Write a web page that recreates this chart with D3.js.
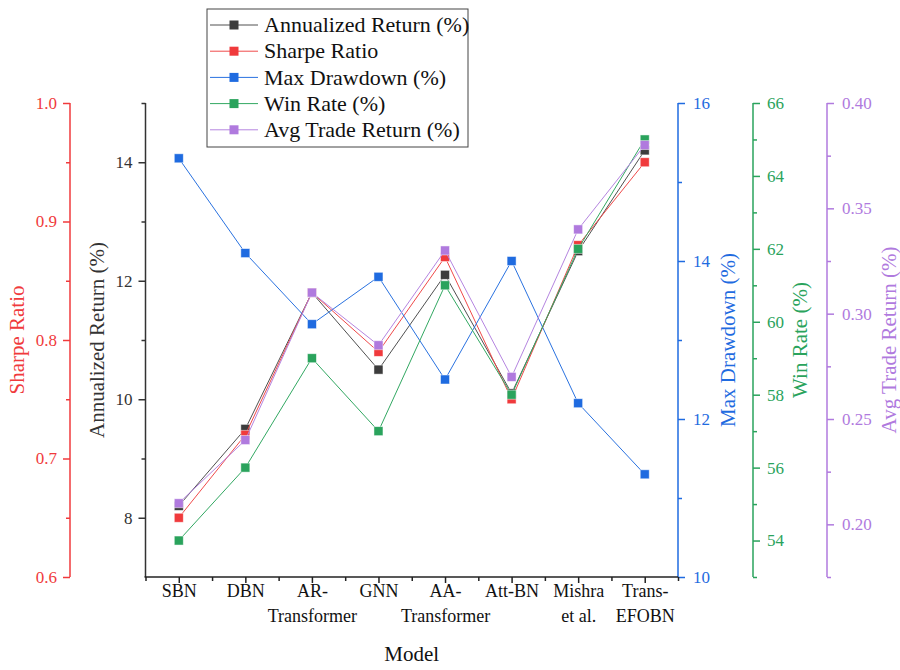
<!DOCTYPE html>
<html>
<head>
<meta charset="utf-8">
<script src="https://cdn.jsdelivr.net/npm/d3@7"></script>
<style>
  body { margin: 0; background: #fff; }
</style>
</head>
<body>
<div id="chart"></div>
<script>
// data
const models = ["SBN", "DBN", "AR-Transformer", "GNN", "AA-Transformer", "Att-BN", "Mishra et al.", "Trans-EFOBN"];
const modelLines = [["SBN"], ["DBN"], ["AR-", "Transformer"], ["GNN"], ["AA-", "Transformer"], ["Att-BN"], ["Mishra", "et al."], ["Trans-", "EFOBN"]];
const annualReturn = [8.2, 9.5, 11.8, 10.5, 12.1, 10.1, 12.5, 14.2];
const sharpeRatio = [0.65, 0.72, 0.84, 0.79, 0.87, 0.75, 0.88, 0.95];
const maxDrawdown = [15.3, 14.1, 13.2, 13.8, 12.5, 14.0, 12.2, 11.3];
const winRate = [54.0, 56.0, 59.0, 57.0, 61.0, 58.0, 62.0, 65.0];
const avgTradeReturn = [0.21, 0.24, 0.31, 0.285, 0.33, 0.27, 0.34, 0.38];

// axis tick values
const returnTicks = [8, 10, 12, 14], returnMinor = [9, 11, 13, 15];
const sharpeTicks = [0.6, 0.7, 0.8, 0.9, 1.0], sharpeMinor = [0.65, 0.75, 0.85, 0.95];
const ddTicks = [10, 12, 14, 16], ddMinor = [11, 13, 15];
const winTicks = [54, 56, 58, 60, 62, 64, 66], winMinor = [53, 55, 57, 59, 61, 63, 65];
const avgTicks = [0.20, 0.25, 0.30, 0.35, 0.40], avgMinor = [0.175, 0.225, 0.275, 0.325, 0.375];

const W = 900, H = 670;
const plot = {left: 145.5, right: 678, top: 103, bottom: 577};
const FONT = "'Liberation Serif', 'Times New Roman', serif";

const svg = d3.select("#chart").append("svg")
    .attr("width", W).attr("height", H)
    .style("background", "#fff");

const x = d3.scalePoint().domain(models).range([plot.left, plot.right]).padding(0.5);

const series = [
    {name: "Annualized Return (%)", values: annualReturn, color: "#3c3c3c", line: "#505050",
     y: d3.scaleLinear().domain([7, 15]).range([plot.bottom, plot.top])},
    {name: "Sharpe Ratio", values: sharpeRatio, color: "#f03a3c", line: "#f04a4a",
     y: d3.scaleLinear().domain([0.6, 1.0]).range([plot.bottom, plot.top])},
    {name: "Max Drawdown (%)", values: maxDrawdown, color: "#1f6be0", line: "#2a72e0",
     y: d3.scaleLinear().domain([10, 16]).range([plot.bottom, plot.top])},
    {name: "Win Rate (%)", values: winRate, color: "#2aa35c", line: "#32a862",
     y: d3.scaleLinear().domain([53, 66]).range([plot.bottom, plot.top])},
    {name: "Avg Trade Return (%)", values: avgTradeReturn, color: "#b07ade", line: "#b585e0",
     y: d3.scaleLinear().domain([0.175, 0.40]).range([plot.bottom, plot.top])}
];

// y axes: major + minor ticks
function yAxis(scale, major, minor, xPos, side, color, fmt, offset) {
    const g = svg.append("g").attr("transform", `translate(${xPos},0)`);
    const mk = side === "left" ? d3.axisLeft : d3.axisRight;
    g.append("g").call(mk(scale).tickValues(minor).tickSize(4).tickFormat(""))
        .call(a => a.select(".domain").remove());
    g.append("g").call(mk(scale).tickValues(major).tickSize(7).tickPadding(offset).tickFormat(d3.format(fmt)));
    g.selectAll("g").attr("font-family", null);
    g.selectAll("path, line").attr("stroke", color).attr("stroke-width", 1.5);
    g.selectAll("text").attr("fill", color)
        .style("font-family", FONT).style("font-size", "17px");
    g.selectAll(".domain").attr("d", `M0,${plot.top}V${plot.bottom}`);
    return g;
}

yAxis(series[1].y, sharpeTicks, sharpeMinor, 70, "left", "#f03a3c", ".1f", 6);
yAxis(series[0].y, returnTicks, returnMinor, plot.left, "left", "#333", "d", 6);
yAxis(series[2].y, ddTicks, ddMinor, plot.right, "right", "#1f6be0", "d", 8);
yAxis(series[3].y, winTicks, winMinor, 753, "right", "#2aa35c", "d", 7);
yAxis(series[4].y, avgTicks, avgMinor, 827, "right", "#b07ade", ".2f", 8);

// x axis
const step = x.step();
const bounds = d3.range(models.length + 1).map(i => plot.left + i * step);
const xg = svg.append("g").attr("transform", `translate(0,${plot.bottom})`);
xg.append("g").call(d3.axisBottom(d3.scaleLinear().domain([plot.left, plot.right]).range([plot.left, plot.right]))
        .tickValues(bounds).tickSize(4).tickFormat(""))
    .call(a => a.select(".domain").remove());
xg.append("g").attr("class", "xmajor").call(d3.axisBottom(x).tickSize(6).tickFormat(""));
xg.selectAll("path, line").attr("stroke", "#222").attr("stroke-width", 1.5);
xg.select(".xmajor .domain").attr("d", `M${plot.left - 1},0H${plot.right}`);

xg.selectAll(".xmajor .tick").each(function(d, i) {
    const t = d3.select(this).append("text")
        .attr("fill", "#111").attr("text-anchor", "middle")
        .style("font-family", FONT).style("font-size", "18px");
    modelLines[i].forEach((s, j) => {
        t.append("tspan").attr("x", 0).attr("y", 20 + j * 25).text(s);
    });
});

// axis titles
function vTitle(text, cx, color) {
    svg.append("text")
        .attr("transform", `translate(${cx},${(plot.top + plot.bottom) / 2}) rotate(-90)`)
        .attr("text-anchor", "middle").attr("dy", "0.35em")
        .style("font-family", FONT).style("font-size", "21px")
        .attr("fill", color).text(text);
}
vTitle("Sharpe Ratio", 17, "#f03a3c");
vTitle("Annualized Return (%)", 97, "#333");
vTitle("Max Drawdown (%)", 728, "#1f6be0");
vTitle("Win Rate (%)", 800, "#2aa35c");
vTitle("Avg Trade Return (%)", 889, "#b07ade");

svg.append("text").attr("x", (plot.left + plot.right) / 2).attr("y", 661)
    .attr("text-anchor", "middle")
    .style("font-family", FONT).style("font-size", "21px")
    .attr("fill", "#111").text("Model");

// series: line then square markers
const ms = 9;
series.forEach(s => {
    const line = d3.line().x((d, i) => x(models[i])).y(d => s.y(d));
    svg.append("path").datum(s.values)
        .attr("fill", "none").attr("stroke", s.line).attr("stroke-width", 1).attr("d", line);
    svg.append("g").selectAll("rect").data(s.values).join("rect")
        .attr("x", (d, i) => x(models[i]) - ms / 2)
        .attr("y", d => s.y(d) - ms / 2)
        .attr("width", ms).attr("height", ms)
        .attr("fill", s.color)
        .attr("stroke", "#fff").attr("stroke-opacity", 0.6).attr("stroke-width", 0.8);
});

// legend
const lg = svg.append("g").attr("transform", "translate(207,9)");
lg.append("rect").attr("width", 261).attr("height", 138)
    .attr("fill", "#fff").attr("stroke", "#444").attr("stroke-width", 1);
series.forEach((s, i) => {
    const yy = 16 + i * 26.2;
    lg.append("line").attr("x1", 3).attr("x2", 51).attr("y1", yy).attr("y2", yy)
        .attr("stroke", s.line).attr("stroke-width", 1);
    lg.append("rect").attr("x", 27 - ms / 2).attr("y", yy - ms / 2)
        .attr("width", ms).attr("height", ms).attr("fill", s.color);
    lg.append("text").attr("x", 57).attr("y", yy).attr("dy", "0.33em")
        .style("font-family", FONT).style("font-size", "22px")
        .attr("fill", "#111").text(s.name);
});
</script>
</body>
</html>
